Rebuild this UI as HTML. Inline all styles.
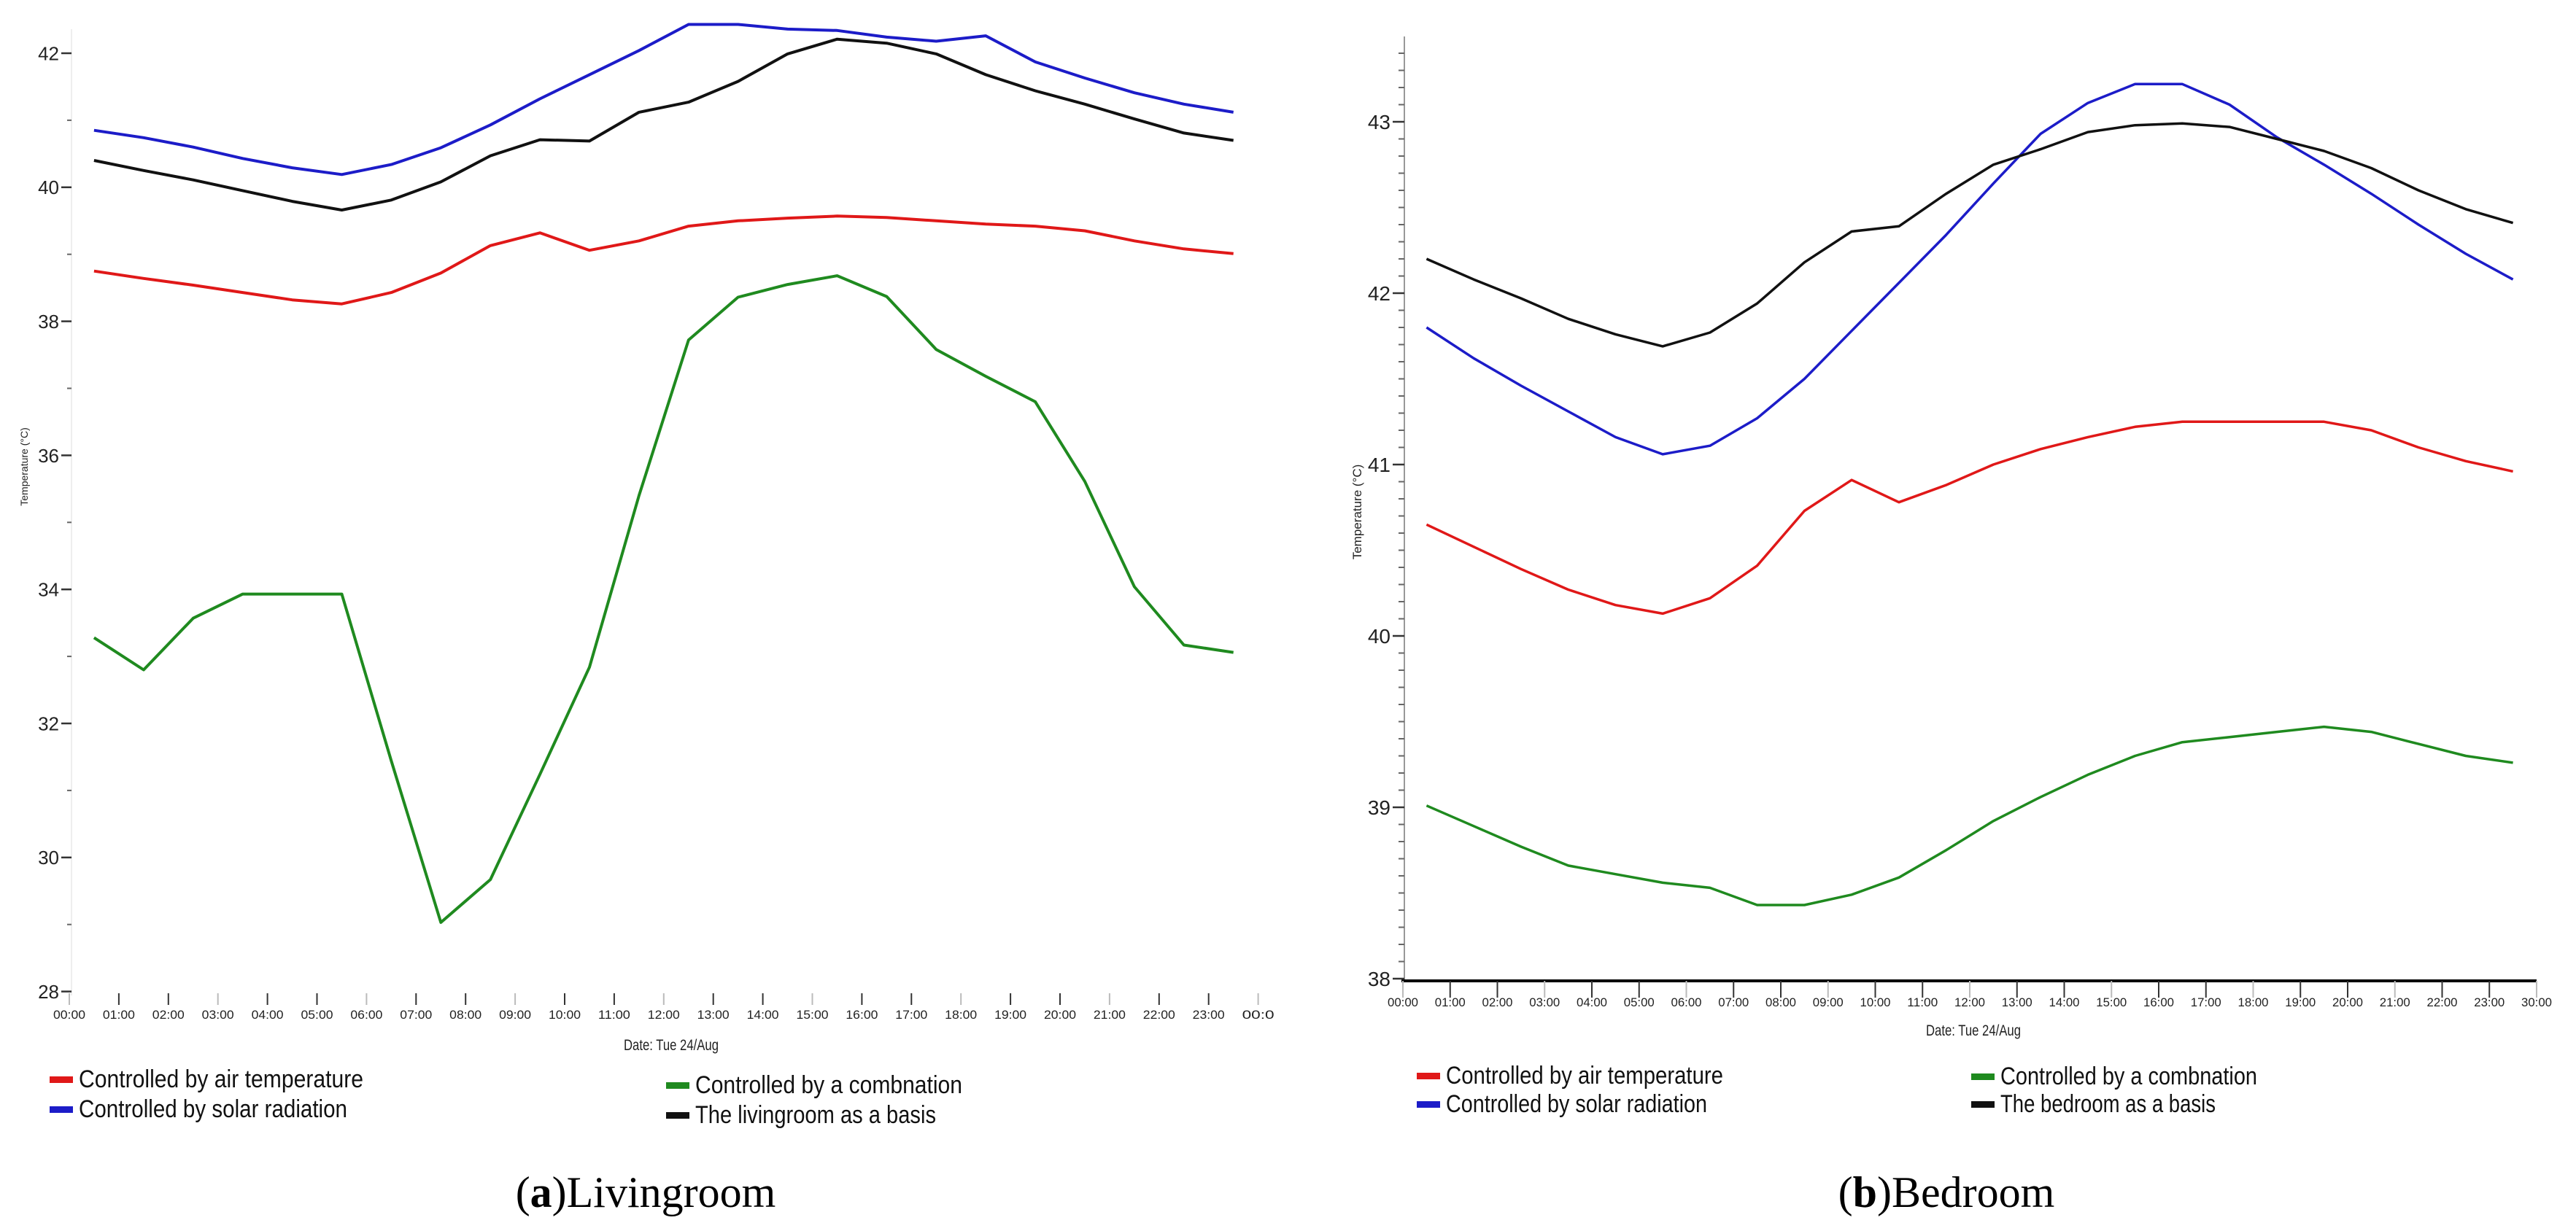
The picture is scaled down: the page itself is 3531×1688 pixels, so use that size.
<!DOCTYPE html>
<html><head><meta charset="utf-8"><style>
html,body{margin:0;padding:0;background:#fff}
svg{display:block}
text{font-family:"Liberation Sans",sans-serif}
</style></head><body>
<svg id="fig" width="3531" height="1688" viewBox="0 0 3531 1688" xmlns="http://www.w3.org/2000/svg">
<g id="left"></g>
<g id="right"></g>
<text x="885" y="1655" font-size="60" text-anchor="middle" font-family="Liberation Serif, serif" style="font-family:'Liberation Serif',serif">(<tspan font-weight="bold">a</tspan>)Livingroom</text>
<text x="2668" y="1655" font-size="60" text-anchor="middle" style="font-family:'Liberation Serif',serif">(<tspan font-weight="bold">b</tspan>)Bedroom</text>
</svg>
<script>
// Livingroom data (half-hour points 00:30..23:30)
const leftAir = [38.75,38.64,38.54,38.43,38.32,38.26,38.43,38.72,39.13,39.32,39.06,39.2,39.42,39.5,39.54,39.57,39.55,39.5,39.45,39.42,39.35,39.2,39.08,39.01];
const leftSolar = [40.85,40.74,40.6,40.43,40.29,40.19,40.34,40.59,40.93,41.32,41.68,42.04,42.43,42.43,42.36,42.34,42.24,42.18,42.26,41.87,41.63,41.41,41.24,41.12];
const leftComb = [33.28,32.8,33.57,33.93,33.93,33.93,31.44,29.03,29.67,31.24,32.84,35.4,37.72,38.36,38.55,38.68,38.37,37.58,37.18,36.8,35.61,34.04,33.17,33.06];
const leftBase = [40.4,40.25,40.11,39.95,39.79,39.66,39.81,40.08,40.47,40.71,40.69,41.12,41.27,41.58,41.99,42.21,42.15,41.99,41.68,41.44,41.24,41.02,40.81,40.7];
const leftXTicks = ["00:00","01:00","02:00","03:00","04:00","05:00","06:00","07:00","08:00","09:00","10:00","11:00","12:00","13:00","14:00","15:00","16:00","17:00","18:00","19:00","20:00","21:00","22:00","23:00","00:0"];
const leftYTicks = [28,30,32,34,36,38,40,42];
// Bedroom data
const rightAir = [40.65,40.52,40.39,40.27,40.18,40.13,40.22,40.41,40.73,40.91,40.78,40.88,41.0,41.09,41.16,41.22,41.25,41.25,41.25,41.25,41.2,41.1,41.02,40.96];
const rightSolar = [41.8,41.62,41.46,41.31,41.16,41.06,41.11,41.27,41.5,41.78,42.06,42.34,42.64,42.93,43.11,43.22,43.22,43.1,42.91,42.75,42.58,42.4,42.23,42.08];
const rightComb = [39.01,38.89,38.77,38.66,38.61,38.56,38.53,38.43,38.43,38.49,38.59,38.75,38.92,39.06,39.19,39.3,39.38,39.41,39.44,39.47,39.44,39.37,39.3,39.26];
const rightBase = [42.2,42.08,41.97,41.85,41.76,41.69,41.77,41.94,42.18,42.36,42.39,42.58,42.75,42.84,42.94,42.98,42.99,42.97,42.9,42.83,42.73,42.6,42.49,42.41];
const rightXTicks = ["00:00","01:00","02:00","03:00","04:00","05:00","06:00","07:00","08:00","09:00","10:00","11:00","12:00","13:00","14:00","15:00","16:00","17:00","18:00","19:00","20:00","21:00","22:00","23:00","30:00"];
const rightYTicks = [38,39,40,41,42,43];

const NS="http://www.w3.org/2000/svg";
function mk(p,tag,at,txt){const e=document.createElementNS(NS,tag);for(const k in at)e.setAttribute(k,at[k]);if(txt!==undefined)e.textContent=txt;p.appendChild(e);return e;}
const COL={air:"#e01818",solar:"#1c1cc8",comb:"#1f8a1f",base:"#111"};

function chart(g,o){
  const X=h=>o.x0+h*o.dx, Y=v=>o.yTop+(o.vTop-v)*o.py;
  // y axis
  const ax=mk(g,'line',{x1:o.axX,y1:o.axTop,x2:o.axX,y2:o.axBot,stroke:o.axCol,'stroke-width':o.axW});
  
  if(o.xAxisLine){const xl=mk(g,'line',{x1:o.axX-4,y1:o.axBot,x2:X(24),y2:o.axBot,stroke:'#000','stroke-width':4});
    }
  // minor ticks
  for(let v=o.minorStart;v<=o.minorEnd+1e-9;v+=o.minorStep){
    mk(g,'line',{x1:o.axX-o.minorLen,y1:Y(v),x2:o.axX,y2:Y(v),stroke:'#666','stroke-width':2});
  }
  o.yTicks.forEach(v=>{
    mk(g,'line',{x1:o.axX-o.majorLen,y1:Y(v),x2:o.axX,y2:Y(v),stroke:'#333','stroke-width':2.5});
    const t=mk(g,'text',{x:o.axX-o.majorLen-3,y:Y(v)+o.yFs*0.36,'font-size':o.yFs,'text-anchor':'end',fill:'#222'},String(v));
    
  });
  const yt=mk(g,'text',{x:0,y:0,'font-size':o.titleFs,'text-anchor':'middle',fill:'#222',transform:`translate(${o.yTitleX},${o.yTitleY}) rotate(-90)`},'Temperature (°C)');
  
  o.xTicks.forEach((s,i)=>{
    mk(g,'line',{x1:X(i),y1:o.tickY1,x2:X(i),y2:o.tickY2,stroke:i%3==0?'#bbb':'#333','stroke-width':2});
    const t=mk(g,'text',{x:X(i),y:o.xLabY,'font-size':o.xFs,'text-anchor':'middle',fill:'#222',textLength:o.xLabW,lengthAdjust:'spacingAndGlyphs'},s);
    
  });
  const dt=mk(g,'text',{x:o.dateX,y:o.dateY,'font-size':o.xFs+4,'text-anchor':'middle',fill:'#222',textLength:130,lengthAdjust:'spacingAndGlyphs'},'Date: Tue 24/Aug');
  
  o.series.forEach(s=>{
    const d=s.vals.map((v,i)=>(i?'L':'M')+X(i+0.5).toFixed(1)+' '+Y(v).toFixed(1)).join(' ');
    const p=mk(g,'path',{d:d,fill:'none',stroke:COL[s.key],'stroke-width':o.lw,'stroke-linejoin':'round'});
    
  });
  o.legend.forEach(l=>{
    const lg=mk(g,'g',{});
    
    mk(lg,'rect',{x:l.x,y:l.y-4,width:32,height:9,fill:COL[l.key]});
    mk(lg,'text',{x:l.x+40,y:l.y+11,'font-size':34,fill:'#111',textLength:l.w,lengthAdjust:'spacingAndGlyphs'},l.text);
  });
}
chart(document.getElementById('left'),{
  x0:95,dx:67.9,yTop:73,vTop:42,py:91.9,
  axX:98,axTop:40,axBot:1365,axCol:'#eee',axW:2,xAxisLine:false,
  minorStart:29,minorEnd:41,minorStep:2,minorLen:6,majorLen:14,
  yTicks:leftYTicks,yFs:26,titleFs:14,yTitleX:38,yTitleY:640,
  xTicks:leftXTicks,tickY1:1362,tickY2:1378,xLabY:1397,xFs:17,xLabW:44,
  dateX:920,dateY:1440,lw:4,
  series:[{key:'air',name:'air-temperature',vals:leftAir},{key:'solar',name:'solar-radiation',vals:leftSolar},{key:'comb',name:'combination',vals:leftComb},{key:'base',name:'livingroom-basis',vals:leftBase}],
  legend:[{key:'air',x:68,y:1480,w:390,text:'Controlled by air temperature'},{key:'solar',x:68,y:1521,w:368,text:'Controlled by solar radiation'},{key:'comb',x:913,y:1488,w:366,text:'Controlled by a combnation'},{key:'base',x:913,y:1529,w:330,text:'The livingroom as a basis'}]
});
chart(document.getElementById('right'),{
  x0:1923,dx:64.75,yTop:167,vTop:43,py:235,
  axX:1925,axTop:50,axBot:1345,axCol:'#999',axW:2,xAxisLine:true,
  minorStart:38.1,minorEnd:43.4,minorStep:0.1,minorLen:8,majorLen:16,
  yTicks:rightYTicks,yFs:28,titleFs:17,yTitleX:1866,yTitleY:702,
  xTicks:rightXTicks,tickY1:1345,tickY2:1368,xLabY:1380,xFs:17,xLabW:42,
  dateX:2705,dateY:1420,lw:3.5,
  series:[{key:'air',name:'air-temperature',vals:rightAir},{key:'solar',name:'solar-radiation',vals:rightSolar},{key:'comb',name:'combination',vals:rightComb},{key:'base',name:'bedroom-basis',vals:rightBase}],
  legend:[{key:'air',x:1942,y:1475,w:380,text:'Controlled by air temperature'},{key:'solar',x:1942,y:1514,w:358,text:'Controlled by solar radiation'},{key:'comb',x:2702,y:1476,w:352,text:'Controlled by a combnation'},{key:'base',x:2702,y:1514,w:295,text:'The bedroom as a basis'}]
});
</script>
</body></html>
